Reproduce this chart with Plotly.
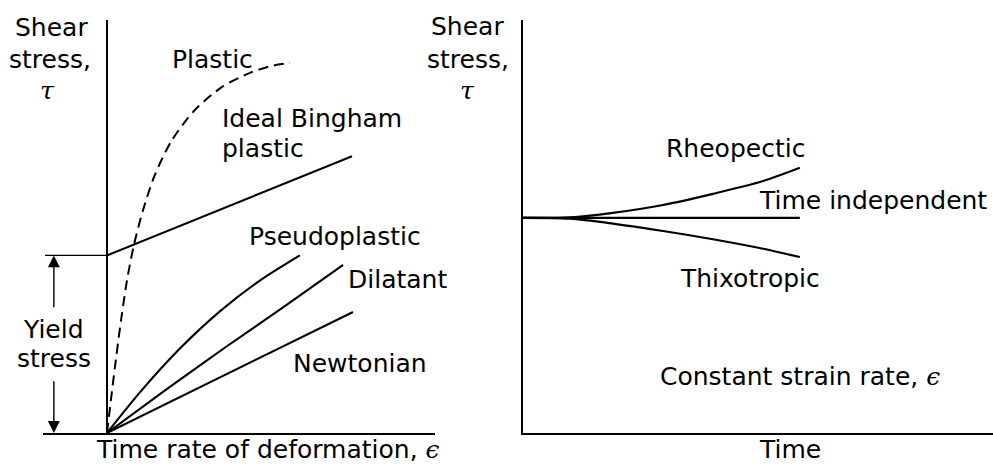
import plotly.graph_objects as go

W, H = 993, 466

# ---------------- data (arbitrary units) ----------------
# Left panel: shear stress vs time rate of deformation
yield_stress = 4.3

bingham_x = [0.0, 7.47]
bingham_y = [yield_stress, 6.7]

plastic_x = [0.0, 0.12, 0.27, 0.43, 0.61, 0.82, 1.10, 1.46, 1.98, 2.68, 3.51, 4.36, 5.03, 5.58]
plastic_y = [0.0, 0.80, 1.77, 2.74, 3.70, 4.55, 5.40, 6.25, 7.09, 7.82, 8.38, 8.72, 8.89, 8.96]

pseudo_x = [0.0, 1.01, 2.23, 3.45, 4.66, 5.88]
pseudo_y = [0.0, 0.99, 2.05, 2.95, 3.69, 4.30]

dilatant_x = [0.0, 1.8, 3.6, 5.4, 7.2]
dilatant_y = [0.0, 1.05, 2.07, 3.06, 4.07]

newtonian_x = [0.0, 7.50]
newtonian_y = [0.0, 2.93]

yield_tick_x = [-1.89, 0.0]

# Right panel: shear stress vs time at constant strain rate
time_x = [0.0, 1.0, 1.91, 2.98, 4.04, 5.11, 5.89]
rheopectic_y = [5.21, 5.22, 5.33, 5.52, 5.79, 6.10, 6.42]
thixotropic_y = [5.21, 5.19, 5.07, 4.89, 4.69, 4.46, 4.26]
indep_x = [0.0, 5.89]
indep_y = [5.21, 5.21]

# ---------------- figure ----------------
FONT = "DejaVu Sans, Liberation Sans, Arial, sans-serif"
FS = 25
LW = 2.1

fig = go.Figure()

def line(x, y, xa="x", ya="y", dash="solid", width=LW, color="black"):
    fig.add_trace(go.Scatter(x=x, y=y, mode="lines", xaxis=xa, yaxis=ya,
                             line=dict(color=color, width=width, dash=dash,
                                       shape="spline", smoothing=0.8),
                             hoverinfo="skip", showlegend=False))

line(plastic_x, plastic_y, dash="10px,6px", width=2.0)
line(bingham_x, bingham_y)
line(pseudo_x, pseudo_y)
line(dilatant_x, dilatant_y)
line(newtonian_x, newtonian_y)
line(yield_tick_x, [yield_stress, yield_stress], width=1.4)

line(time_x, rheopectic_y, "x2", "y2")
line(time_x, thixotropic_y, "x2", "y2")
line(indep_x, indep_y, "x2", "y2")

def px(x):
    return x / W

def py(y):
    return 1 - y / H

ydom = [py(433), py(20)]

axis_common = dict(showgrid=False, showticklabels=False, ticks="", zeroline=False,
                   showline=True, linecolor="black", linewidth=1.6)

fig.update_layout(
    width=W, height=H,
    margin=dict(l=0, r=0, t=0, b=0),
    paper_bgcolor="white", plot_bgcolor="white",
    hovermode=False,
    xaxis=dict(**{**axis_common, "zeroline": True, "zerolinecolor": "black", "zerolinewidth": 1.6},
               domain=[px(43), px(435)], range=[-1.951, 10], anchor="y"),
    yaxis=dict(**{**axis_common, "showline": False}, domain=ydom, range=[0, 10], anchor="x"),
    xaxis2=dict(**axis_common, domain=[px(523), 1.0], range=[0, 10], anchor="y2"),
    yaxis2=dict(**axis_common, domain=ydom, range=[0, 10], anchor="x2"),
)

TAU = "<span style=\"font-family:'DejaVu Serif'\"><i>τ</i></span>"
EPS = "<span style=\"font-family:'DejaVu Serif'\"><i>ϵ</i></span>"

labels = [
    ("Shear", 51, 28, "center", "middle"),
    ("stress,", 50, 60, "center", "middle"),
    (TAU, 47, 90, "center", "middle"),
    ("Plastic", 212, 59, "center", "middle"),
    ("Ideal Bingham", 220, 119, "left", "middle"),
    ("plastic", 220, 148, "left", "middle"),
    ("Pseudoplastic", 335, 236, "center", "middle"),
    ("Dilatant", 397, 279, "center", "middle"),
    ("Newtonian", 360, 363, "center", "middle"),
    ("Yield", 53, 329, "center", "middle"),
    ("stress", 54, 358, "center", "middle"),
    ("Time rate of deformation, " + EPS, 268, 466, "center", "bottom"),
    ("Shear", 467, 27, "center", "middle"),
    ("stress,", 468, 60, "center", "middle"),
    (TAU, 467, 90, "center", "middle"),
    ("Rheopectic", 735, 148, "center", "middle"),
    ("Time independent", 757, 201, "left", "middle"),
    ("Thixotropic", 750, 278, "center", "middle"),
    ("Constant strain rate, " + EPS, 800, 376, "center", "middle"),
    ("Time", 790, 466, "center", "bottom"),
]

for text, x, y, xanc, yanc in labels:
    fig.add_annotation(text=text, x=px(x), y=py(y), xref="paper", yref="paper",
                       xanchor=xanc, yanchor=yanc, showarrow=False,
                       font=dict(family=FONT, size=FS, color="black"))

# Yield stress arrows
arrow_x = -1.62
fig.add_annotation(x=arrow_x, y=yield_stress, ax=arrow_x, ay=yield_stress * 0.70,
                   xref="x", yref="y", axref="x", ayref="y", text="",
                   showarrow=True, arrowhead=2, arrowsize=1.7, arrowwidth=1.4, arrowcolor="black")
fig.add_annotation(x=arrow_x, y=0, ax=arrow_x, ay=yield_stress * 0.30,
                   xref="x", yref="y", axref="x", ayref="y", text="",
                   showarrow=True, arrowhead=2, arrowsize=1.7, arrowwidth=1.4, arrowcolor="black")

fig.write_html("out.html", config={"displayModeBar": False},
               post_script="document.body.style.margin='0';document.body.style.overflow='hidden';")
